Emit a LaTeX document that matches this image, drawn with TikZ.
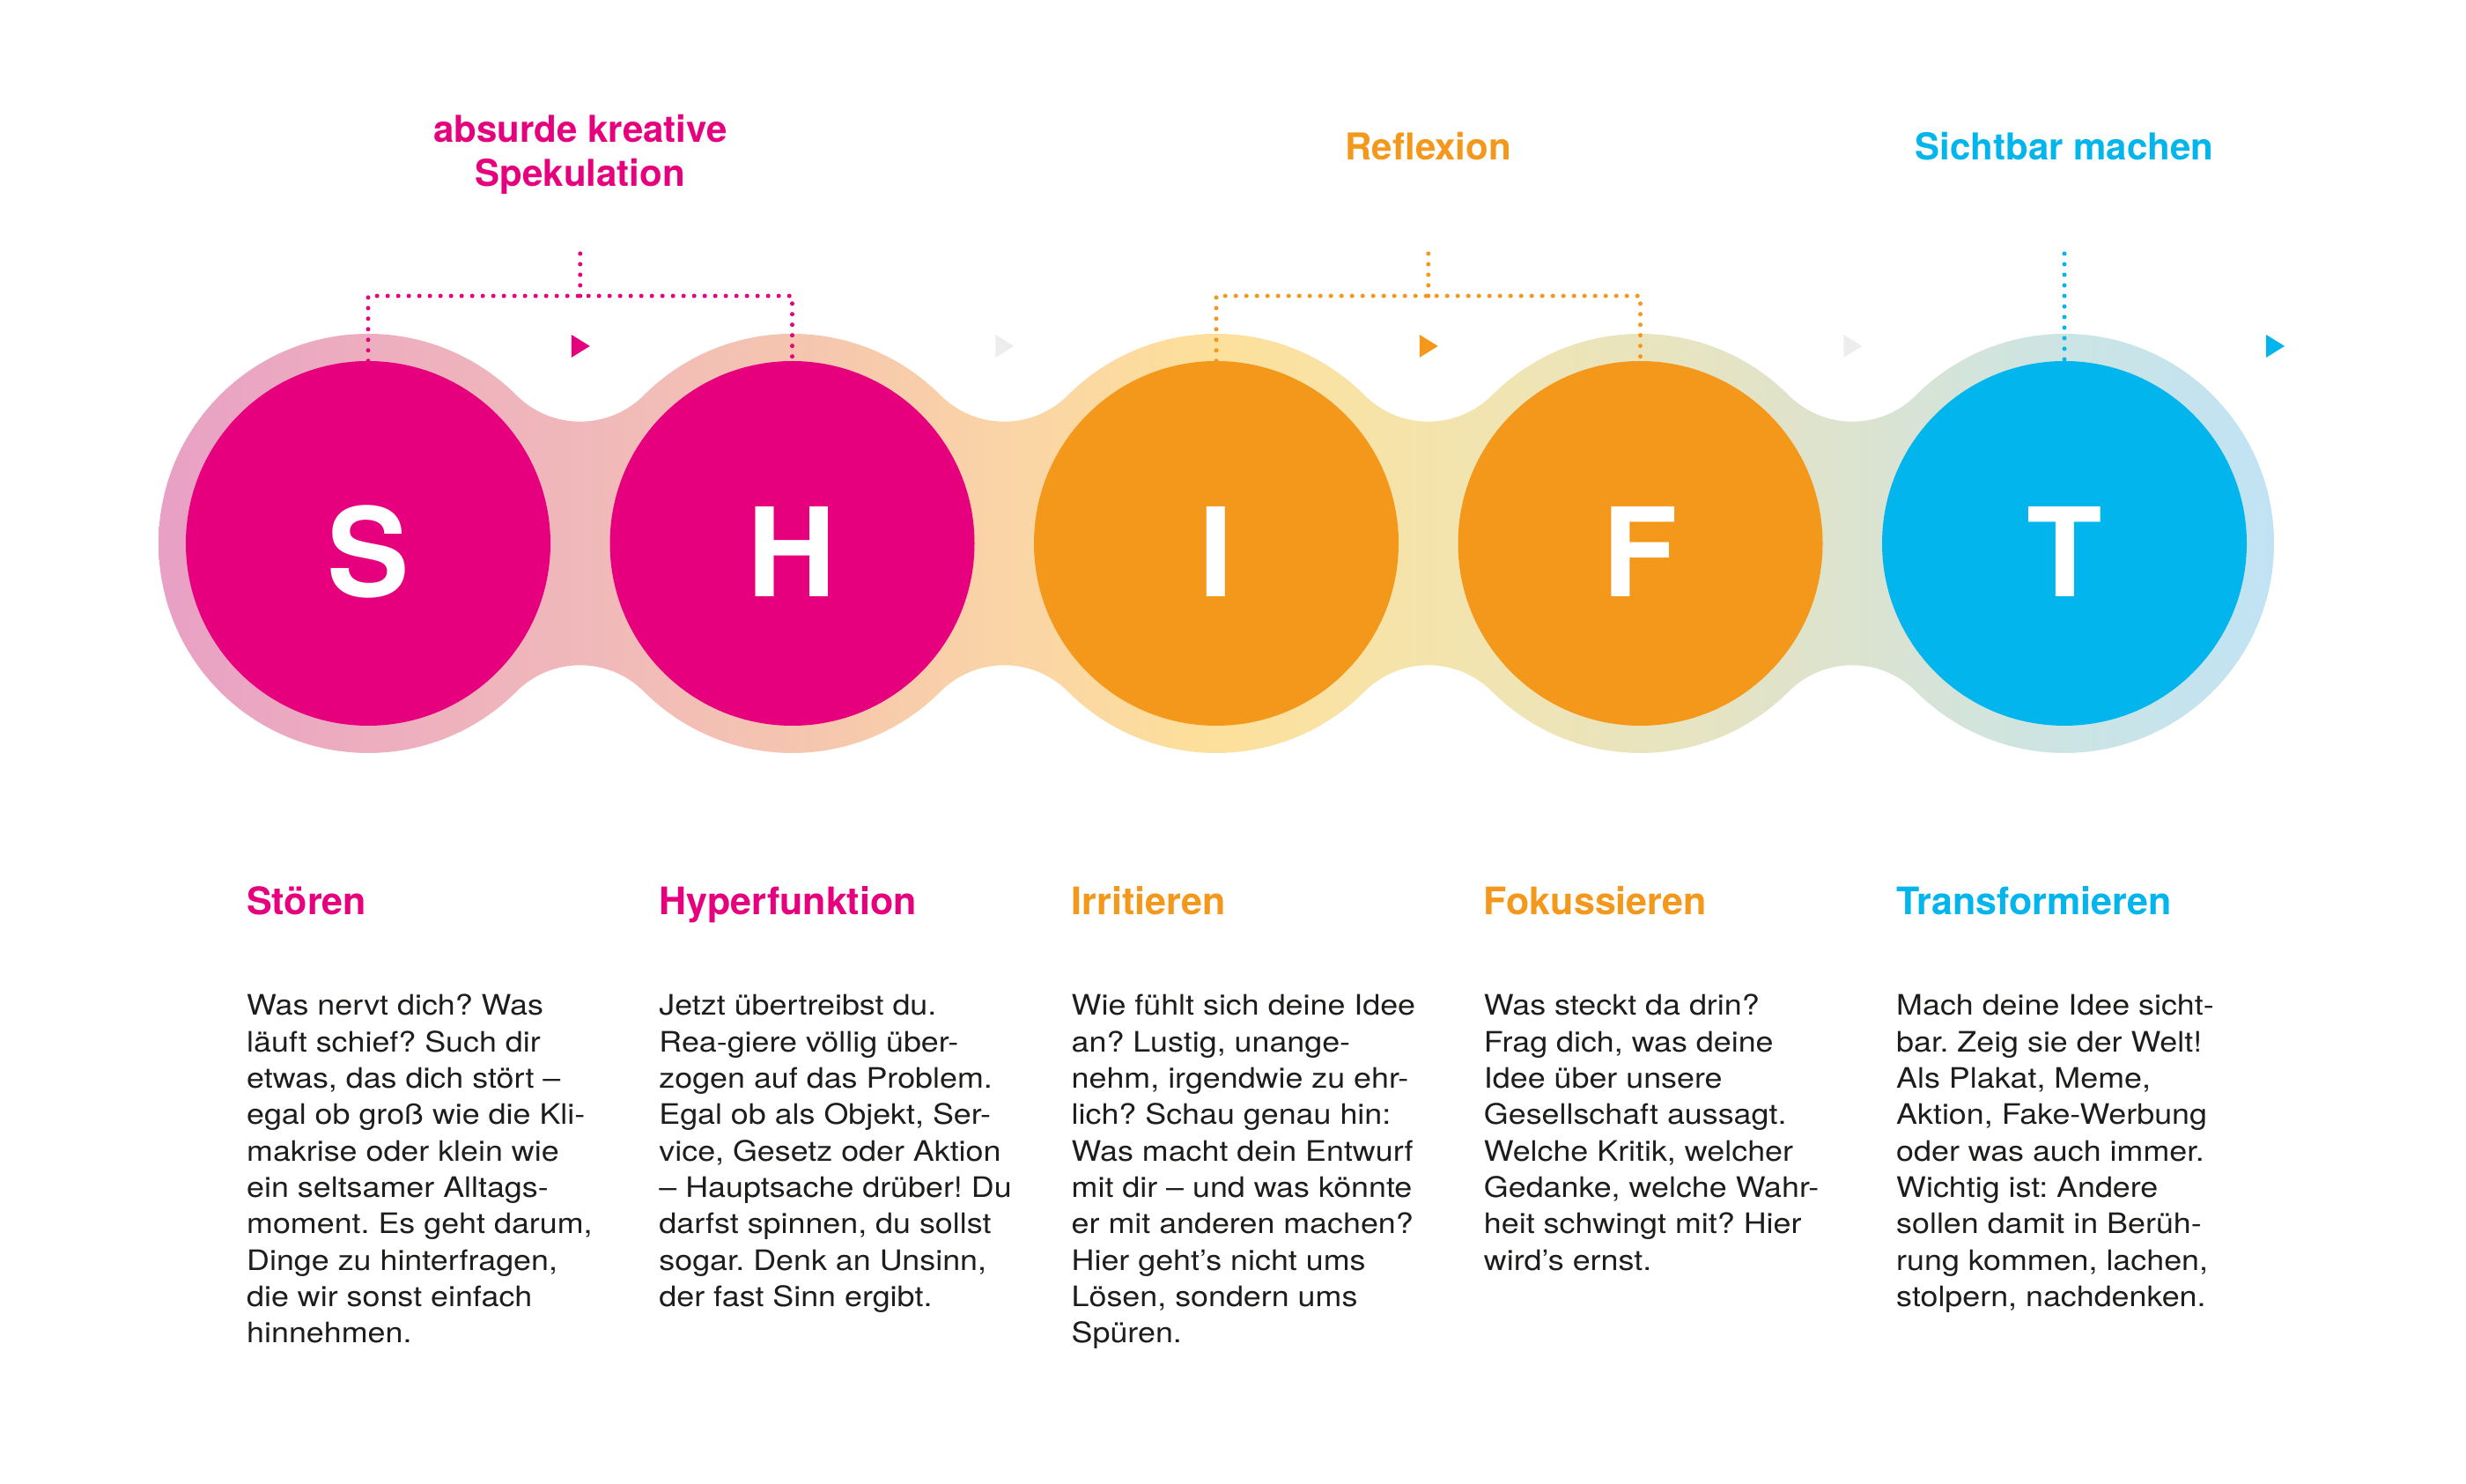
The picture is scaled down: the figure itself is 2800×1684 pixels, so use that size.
\documentclass[tikz,border=0pt]{standalone}
\usepackage{fontspec}
\setmainfont{TeX Gyre Heros}
\newfontfamily\bodyfont[FakeStretch=1.12]{TeX Gyre Heros}
\definecolor{mag}{HTML}{E6007E}
\definecolor{ora}{HTML}{F4981C}
\definecolor{cya}{HTML}{02B5EC}
\definecolor{gtri}{HTML}{EDEDED}
\definecolor{ink}{HTML}{1D1D1B}
\definecolor{hA}{HTML}{E8A0C4}
\definecolor{hB}{HTML}{EDAEBF}
\definecolor{hC}{HTML}{F0B8BA}
\definecolor{hD}{HTML}{F5C5B0}
\definecolor{hE}{HTML}{FAD4A6}
\definecolor{hF}{HTML}{FDE09B}
\definecolor{hG}{HTML}{F4E4AC}
\definecolor{hH}{HTML}{E9E4BE}
\definecolor{hI}{HTML}{DCE3CF}
\definecolor{hJ}{HTML}{CCE4E4}
\definecolor{hK}{HTML}{C0E3F4}
\pgfdeclarehorizontalshading{halo}{100bp}{color(0bp)=(hA); color(25bp)=(hA); color(29.95bp)=(hB); color(34.97bp)=(hC); color(39.99bp)=(hD); color(44.98bp)=(hE); color(50bp)=(hF); color(55.02bp)=(hG); color(60.01bp)=(hH); color(65.03bp)=(hI); color(70.05bp)=(hJ); color(75bp)=(hK); color(100bp)=(hK)}
\frenchspacing
\begin{document}
\begin{tikzpicture}[x=1pt,y=1pt,
  disc/.style={circle, minimum size=414pt, inner sep=0pt, draw=none},
  bigl/.style={anchor=base, text=white, inner sep=0pt, font=\fontsize{140}{140}\selectfont\bfseries},
  lbl/.style={anchor=base, align=center, inner sep=0pt, font=\fontsize{42}{50}\selectfont\bfseries},
  head/.style={anchor=base west, inner sep=0pt, font=\fontsize{43}{50}\selectfont\bfseries},
  bodytext/.style={anchor=base west, align=left, inner sep=0pt, text=ink, font=\bodyfont\fontsize{32}{41.3}\selectfont\frenchspacing},
  dotline/.style={line width=5pt, dash pattern=on 0pt off 12pt, line cap=round}
]
\useasboundingbox (0,0) rectangle (2800,1684);
\fill[white] (0,0) rectangle (2800,1684);
% halo band
\begin{scope}
\clip (180,1067) arc[start angle=180, end angle=45, radius=238]
  arc[start angle=225, end angle=315, radius=102.47]
  arc[start angle=135, end angle=45, radius=238]
  arc[start angle=225, end angle=315, radius=102.47]
  arc[start angle=135, end angle=45, radius=238]
  arc[start angle=225, end angle=315, radius=102.47]
  arc[start angle=135, end angle=45, radius=238]
  arc[start angle=225, end angle=315, radius=102.47]
  arc[start angle=135, end angle=-135, radius=238]
  arc[start angle=45, end angle=135, radius=102.47]
  arc[start angle=-45, end angle=-135, radius=238]
  arc[start angle=45, end angle=135, radius=102.47]
  arc[start angle=-45, end angle=-135, radius=238]
  arc[start angle=45, end angle=135, radius=102.47]
  arc[start angle=-45, end angle=-135, radius=238]
  arc[start angle=45, end angle=135, radius=102.47]
  arc[start angle=-45, end angle=-180, radius=238] -- cycle;
\shade[shading=halo] (180,820) rectangle (2582,1310);
\end{scope}
% circles
\node[disc, fill=mag] (S) at (418,1067) {};
\node[disc, fill=mag] (H) at (899.5,1067) {};
\node[disc, fill=ora] (I) at (1381,1067) {};
\node[disc, fill=ora] (F) at (1862.5,1067) {};
\node[disc, fill=cya] (T) at (2344,1067) {};
\node[bigl] (Sl) at (418,1006) {S};
\node[bigl] (Hl) at (899.5,1006) {H};
\node[bigl] (Il) at (1381,1006) {I};
\node[bigl] (Fl) at (1862.5,1006) {F};
\node[bigl] (Tl) at (2344,1006) {T};
% top labels (anchor base = last line)
\node[lbl, text=mag] (LA) at (658.75,1472) {absurde kreative\\Spekulation};
\node[lbl, text=ora] (LB) at (1621.75,1502.4) {Reflexion};
\node[lbl, text=cya] (LC) at (2344,1502.4) {Sichtbar machen};
% dotted brackets
\coordinate (a1) at (658.75,1396);
\coordinate (a2) at (658.75,1348);
\coordinate (b1) at (1621.75,1396);
\coordinate (b2) at (1621.75,1348);
\coordinate (c1) at (2344,1396);
\draw[dotline, mag] (a1) -- (a2);
\draw[dotline, mag] (S.north) |- (a2) -| (H.north);
\draw[dotline, ora] (b1) -- (b2);
\draw[dotline, ora] (I.north) |- (b2) -| (F.north);
\draw[dotline, cya] (c1) -- (T.north);
% triangles
\fill[mag] (648.75,1304) -- (648.75,1278) -- (669.75,1291) -- cycle;
\fill[gtri] (1130.25,1304) -- (1130.25,1278) -- (1151.25,1291) -- cycle;
\fill[ora] (1611.75,1304) -- (1611.75,1278) -- (1632.75,1291) -- cycle;
\fill[gtri] (2093.25,1304) -- (2093.25,1278) -- (2114.25,1291) -- cycle;
\fill[cya] (2573,1304) -- (2573,1278) -- (2594,1291) -- cycle;
% headings
\node[head, text=mag] (h1) at (280,645) {Stören};
\node[head, text=mag] (h2) at (748.25,645) {Hyperfunktion};
\node[head, text=ora] (h3) at (1216.5,645) {Irritieren};
\node[head, text=ora] (h4) at (1684.75,645) {Fokussieren};
\node[head, text=cya] (h5) at (2153,645) {Transformieren};
% body (anchor base = last line; first line baseline at 531)
\node[bodytext] (t1) at (280,159.3) {Was nervt dich? Was\\läuft schief? Such dir\\etwas, das dich stört –\\egal ob groß wie die Kli-\\makrise oder klein wie\\ein seltsamer Alltags-\\moment. Es geht darum,\\Dinge zu hinterfragen,\\die wir sonst einfach\\hinnehmen.};
\node[bodytext] (t2) at (748.25,200.6) {Jetzt übertreibst du.\\Rea-giere völlig über-\\zogen auf das Problem.\\Egal ob als Objekt, Ser-\\vice, Gesetz oder Aktion\\– Hauptsache drüber! Du\\darfst spinnen, du sollst\\sogar. Denk an Unsinn,\\der fast Sinn ergibt.};
\node[bodytext] (t3) at (1216.5,159.3) {Wie fühlt sich deine Idee\\an? Lustig, unange-\\nehm, irgendwie zu ehr-\\lich? Schau genau hin:\\Was macht dein Entwurf\\mit dir – und was könnte\\er mit anderen machen?\\Hier geht’s nicht ums\\Lösen, sondern ums\\Spüren.};
\node[bodytext] (t4) at (1684.75,241.9) {Was steckt da drin?\\Frag dich, was deine\\Idee über unsere\\Gesellschaft aussagt.\\Welche Kritik, welcher\\Gedanke, welche Wahr-\\heit schwingt mit? Hier\\wird’s ernst.};
\node[bodytext] (t5) at (2153,200.6) {Mach deine Idee sicht-\\bar. Zeig sie der Welt!\\Als Plakat, Meme,\\Aktion, Fake-Werbung\\oder was auch immer.\\Wichtig ist: Andere\\sollen damit in Berüh-\\rung kommen, lachen,\\stolpern, nachdenken.};
\end{tikzpicture}
\end{document}
